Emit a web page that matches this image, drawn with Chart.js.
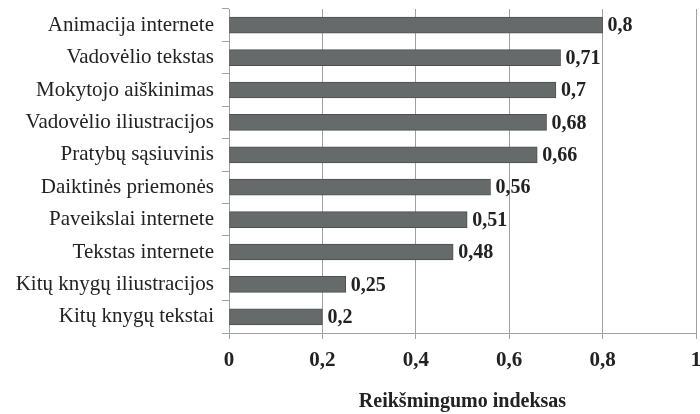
<!DOCTYPE html>
<html>
<head>
<meta charset="utf-8">
<script src="https://cdn.jsdelivr.net/npm/chart.js@4/dist/chart.umd.min.js"></script>
<style>
html,body{margin:0;padding:0;background:#fff;}
#wrap{width:700px;height:414px;}
</style>
</head>
<body>
<div id="wrap"><canvas id="c" width="700" height="414"></canvas></div>
<script>
const categories = [
  "Animacija internete",
  "Vadovėlio tekstas",
  "Mokytojo aiškinimas",
  "Vadovėlio iliustracijos",
  "Pratybų sąsiuvinis",
  "Daiktinės priemonės",
  "Paveikslai internete",
  "Tekstas internete",
  "Kitų knygų iliustracijos",
  "Kitų knygų tekstai"
];
const values = [0.8, 0.71, 0.7, 0.68, 0.66, 0.56, 0.51, 0.48, 0.25, 0.2];
const xTicks = [0, 0.2, 0.4, 0.6, 0.8, 1];
const axisTitle = "Reikšmingumo indeksas";

const fmt = v => String(v).replace('.', ',');
const SERIF = "'Liberation Serif', 'Times New Roman', serif";

const valueLabels = {
  id: 'valueLabels',
  afterDatasetsDraw(chart) {
    const ctx = chart.ctx;
    const meta = chart.getDatasetMeta(0);
    ctx.save();
    ctx.font = "bold 20px " + SERIF;
    ctx.fillStyle = "#222";
    ctx.textAlign = "left";
    ctx.textBaseline = "middle";
    meta.data.forEach((el, i) => {
      ctx.fillText(fmt(values[i]), el.x + 5, el.y + 1);
    });
    ctx.restore();
  }
};

new Chart(document.getElementById('c'), {
  type: 'bar',
  data: {
    labels: categories,
    datasets: [{
      data: values,
      backgroundColor: '#676a6a',
      borderColor: '#4e5050',
      borderWidth: 1,
      borderSkipped: false,
      barThickness: 16
    }]
  },
  options: {
    indexAxis: 'y',
    responsive: false,
    animation: false,
    layout: { padding: { top: 9, right: 4, left: 0, bottom: 0 } },
    plugins: { legend: { display: false }, tooltip: { enabled: false } },
    scales: {
      x: {
        min: 0, max: 1,
        afterBuildTicks: s => { s.ticks = xTicks.map(v => ({ value: v })); },
        afterFit: s => { s.height = 81; s.paddingLeft = 0; s.paddingRight = 0; },
        grid: { color: '#a0a0a0', lineWidth: 1, tickLength: 6, drawTicks: true },
        border: { color: '#a0a0a0' },
        ticks: {
          font: { family: SERIF, size: 21, weight: 'bold' },
          color: '#222',
          padding: 9,
          maxRotation: 0,
          callback: v => fmt(v)
        },
        title: {
          display: true,
          text: axisTitle,
          font: { family: SERIF, size: 20, weight: 'bold' },
          color: '#222',
          padding: { top: 10, bottom: 0 }
        }
      },
      y: {
        afterFit: s => { s.width = 229; s.paddingTop = 0; s.paddingBottom = 0; },
        grid: { offset: true, drawOnChartArea: false, color: '#a0a0a0', tickLength: 7 },
        border: { color: '#a0a0a0' },
        ticks: {
          font: { family: SERIF, size: 21 },
          color: '#222',
          padding: 8
        }
      }
    }
  },
  plugins: [valueLabels]
});
</script>
</body>
</html>
